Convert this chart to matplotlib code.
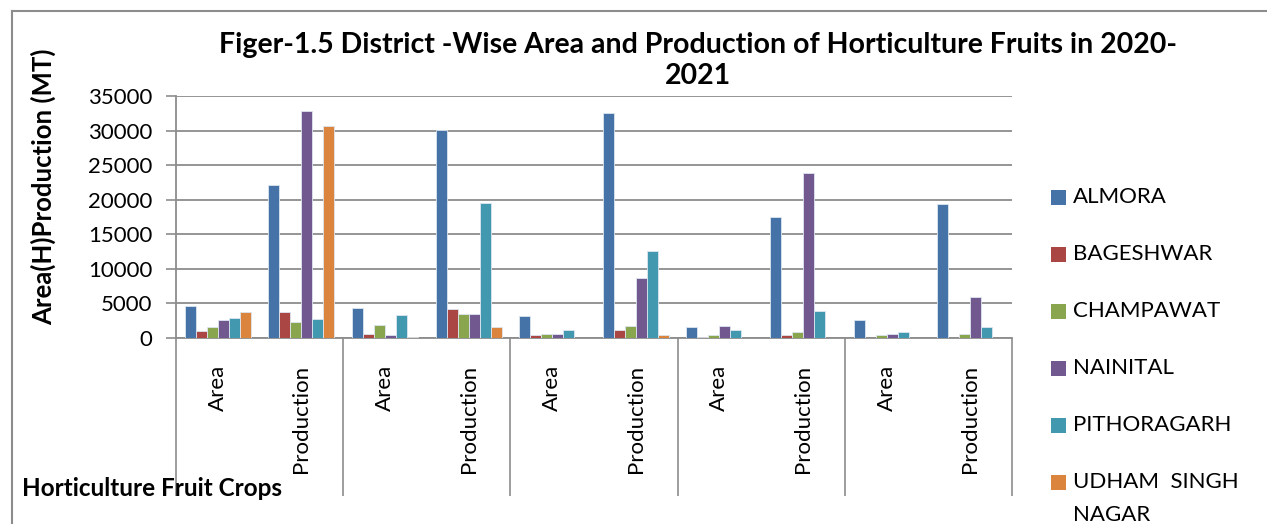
import matplotlib.pyplot as plt
from matplotlib.patches import Rectangle
from matplotlib.lines import Line2D
import numpy as np

plt.rcParams['font.family'] = ['Lato', 'DejaVu Sans']

categories = ['Area', 'Production'] * 5
districts = ['ALMORA', 'BAGESHWAR', 'CHAMPAWAT', 'NAINITAL', 'PITHORAGARH', 'UDHAM  SINGH NAGAR']

almora = [4650, 22130, 4350, 30100, 3240, 32570, 1640, 17490, 2610, 19330]
bageshwar = [950, 3770, 620, 4200, 480, 1160, 190, 480, 0, 60]
champawat = [1640, 2260, 1890, 3520, 580, 1790, 480, 870, 480, 580]
nainital = [2610, 32770, 380, 3420, 580, 8750, 1790, 23830, 580, 5890]
pithoragarh = [2900, 2760, 3340, 19580, 1200, 12520, 1100, 3920, 920, 1640]
udham = [3820, 30640, 190, 1600, 0, 440, 0, 0, 0, 0]

series = [almora, bageshwar, champawat, nainital, pithoragarh, udham]
colors = ['#4572A7', '#AA4643', '#89A54E', '#71588F', '#4198AF', '#DB843D']

W, H = 1267, 524
fig = plt.figure(figsize=(W / 100, H / 100), dpi=100)
ax = fig.add_axes([176 / W, 1 - 338 / H, (1012 - 176) / W, (338 - 96) / H])

grey = '#8c8c8c'
x = np.arange(len(categories))
bw = 0.79 / len(series)
for i, (vals, c) in enumerate(zip(series, colors)):
    ax.bar(x + (i - 2.5) * bw, vals, width=bw, color=c,
           edgecolor='#dde6f0', linewidth=0.6, zorder=3)

ax.set_xlim(-0.5, len(categories) - 0.5)
ax.set_ylim(0, 35000)
ax.set_yticks(range(0, 35001, 5000))
ax.yaxis.grid(True, color=grey, linewidth=1.3, zorder=0)
ax.set_axisbelow(True)
ax.tick_params(axis='y', length=7, color=grey, width=1.2, labelsize=16, pad=10)

ax.set_xticks(x)
ax.set_xticklabels(categories, rotation=90, fontsize=16, va='top')
ax.set_xticks(np.arange(-0.5, len(categories), 2), minor=True)
ax.tick_params(axis='x', which='major', length=0, pad=19)
ax.tick_params(axis='x', which='minor', length=114, width=1.2, color=grey)

for s in ['top', 'right']:
    ax.spines[s].set_visible(False)
for s in ['left', 'bottom']:
    ax.spines[s].set_color(grey)
    ax.spines[s].set_linewidth(1.3)

ax.set_ylabel('Area(H)Production (MT)', fontsize=18.5, fontweight='bold')
ax.yaxis.set_label_coords(-(176 - 43) / (1012 - 176), (338 - 187) / (338 - 96))
ax.yaxis.label.set_va('center')

fig.text(698 / W, 1 - 45 / H,
         'Figer-1.5 District -Wise Area and Production of Horticulture Fruits in 2020-',
         ha='center', va='center', fontsize=20.5, fontweight='bold')
fig.text(698 / W, 1 - 76 / H, '2021', ha='center', va='center', fontsize=20.5, fontweight='bold')
fig.text(22 / W, 1 - 488 / H, 'Horticulture Fruit Crops', ha='left', va='center',
         fontsize=17.5, fontweight='bold')

# legend
ys = [197, 254, 311, 368, 425, 482]
for name, c, yy in zip(districts, colors, ys):
    fig.add_artist(Rectangle((1051 / W, 1 - (yy + 7.5) / H), 15 / W, 15 / H,
                             transform=fig.transFigure, facecolor=c, edgecolor='none'))
    if name.startswith('UDHAM'):
        fig.text(1073 / W, 1 - yy / H, 'UDHAM  SINGH', ha='left', va='center', fontsize=16)
        fig.text(1073 / W, 1 - (yy + 33) / H, 'NAGAR', ha='left', va='center', fontsize=16)
    else:
        fig.text(1073 / W, 1 - yy / H, name, ha='left', va='center', fontsize=16)

# chart frame
fig.add_artist(Line2D([12 / W, 12 / W], [0, 1 - 11 / H], transform=fig.transFigure,
                      color=grey, linewidth=1.5))
fig.add_artist(Line2D([12 / W, 1], [1 - 11 / H, 1 - 11 / H], transform=fig.transFigure,
                      color=grey, linewidth=1.5))

fig.savefig('out.png', dpi=100)
